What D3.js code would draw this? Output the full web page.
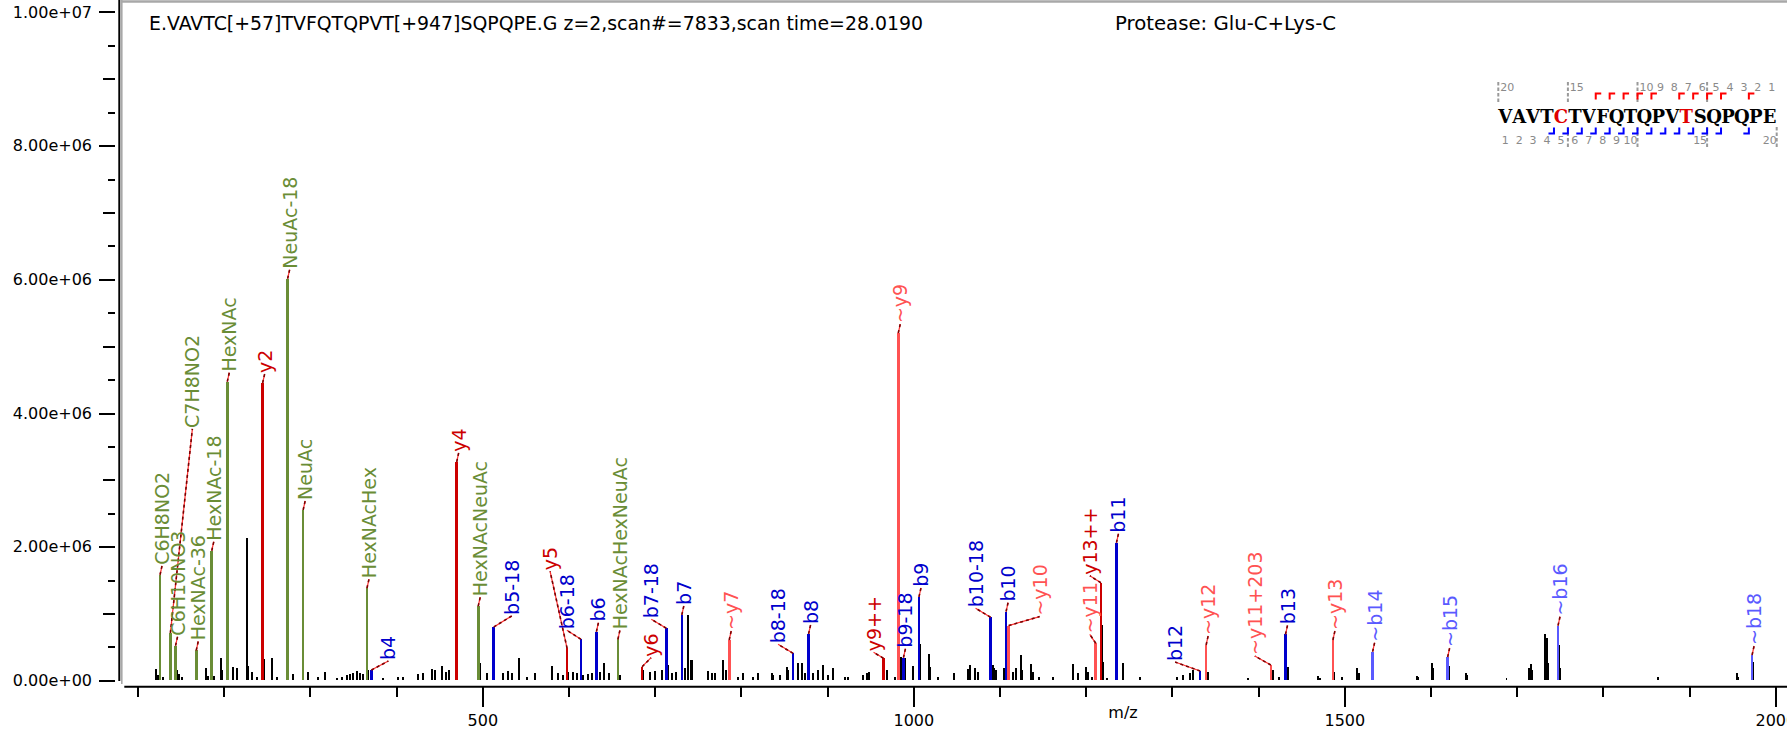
<!DOCTYPE html>
<html>
<head>
<meta charset="utf-8">
<script src="https://cdn.jsdelivr.net/npm/d3@7"></script>
<style>
  html, body { margin: 0; padding: 0; background: #fff; }
  svg { display: block; }
</style>
</head>
<body>
<svg id="chart" width="1787" height="731"></svg>
<script>
// ---------- spectrum annotation data ----------
const titleText = "E.VAVTC[+57]TVFQTQPVT[+947]SQPQPE.G z=2,scan#=7833,scan time=28.0190";
const proteaseText = "Protease: Glu-C+Lys-C";
const peptide = "VAVTCTVFQTQPVTSQPQPE";
const modifiedResidues = [4, 13];           // C[+57], T[+947]
const yIonsObserved = [2, 4, 5, 6, 7, 9, 10, 11, 12, 13];
const bIonsObserved = [4, 5, 6, 7, 8, 9, 10, 11, 12, 13, 14, 15, 16, 18];
const topNumberResidues = [0, 5, 10, 11, 12, 13, 14, 15, 16, 17, 18, 19];
const bottomNumberResidues = [0, 1, 2, 3, 4, 5, 6, 7, 8, 9, 14, 19];

// assigned fragment / oxonium ions
const ionLabels = ["C6H8NO2","C7H8NO2","C6H10NO3","HexNAc-36","HexNAc-18","HexNAc","y2","NeuAc-18","NeuAc",
  "HexNAcHex","b4","y4","HexNAcNeuAc","b5-18","y5","b6-18","b6","HexNAcHexNeuAc","y6","b7-18","b7","~y7",
  "b8-18","b8","y9++","~y9","b9-18","b9","b10-18","b10","~y10","~y11","y13++","b11","b12","~y12",
  "~y11+203","b13","~y13","~b14","~b15","~b16","~b18"];
const ionMz = [126.055,138.055,144.065,168.066,186.076,204.087,245.113,274.092,292.103,
  366.140,371.236,470.225,495.182,513.256,598.284,614.304,632.315,657.235,685.316,713.372,731.383,786.364,
  860.441,878.452,965.41,982.485,988.50,1006.510,1089.548,1107.558,1110.544,1211.592,1217.53,1235.617,1332.670,1339.650,
  1414.67,1431.738,1486.718,1532.786,1619.818,1747.877,1972.989];
// intensities in units of 1e6
const ionIntensity = [1.58,0.71,0.52,0.45,1.94,4.47,4.45,6.01,2.55,
  1.38,0.155,3.27,1.11,0.80,0.48,0.615,0.73,0.615,0.205,0.78,0.98,0.605,
  0.405,0.695,0.33,5.196,0.34,1.25,0.945,1.03,0.82,0.555,1.46,2.06,0.14,0.53,
  0.23,0.69,0.605,0.43,0.35,0.82,0.38];

// unassigned peaks: [m/z, intensity in 1e6]
const unassignedPeaks = [
  [121.0,0.17],[123.3,0.08],[129.9,0.05],[146.1,0.155],[148.0,0.10],[151.2,0.05],
  [179.0,0.18],[182.1,0.06],[188.7,0.06],[196.8,0.34],[198.3,0.15],[205.3,0.28],
  [211.1,0.20],[215.0,0.19],[226.6,2.13],[228.5,0.21],[232.4,0.13],[238.2,0.05],
  [246.7,0.32],[256.3,0.33],[261.4,0.05],[275.1,0.555],[280.0,0.10],[298.1,0.13],
  [309.7,0.05],[317.4,0.13],[331.0,0.04],[336.8,0.05],[342.6,0.075],[346.4,0.10],
  [350.3,0.11],[354.2,0.14],[358.0,0.11],[361.9,0.09],[367.7,0.16],
  [385.1,0.04],[402.5,0.055],[408.3,0.055],[425.7,0.095],[431.5,0.105],[441.2,0.165],
  [445.0,0.155],[452.8,0.215],[457.8,0.13],[461.6,0.155],[471.2,0.505],[497.2,0.255],
  [505.0,0.105],[523.6,0.11],[530.1,0.14],[534.0,0.105],[542.5,0.33],[551.4,0.055],
  [561.1,0.11],[580.4,0.215],[588.1,0.105],[593.9,0.08],[599.3,0.13],[605.5,0.13],
  [609.4,0.11],[617.1,0.085],[622.9,0.09],[626.8,0.105],[636.5,0.13],[641.5,0.255],
  [646.9,0.105],[659.7,0.08],[686.7,0.155],[694.5,0.13],[700.3,0.14],[708.0,0.155],
  [715.7,0.23],[719.6,0.105],[724.6,0.13],[735.1,0.18],[738.9,0.98],[741.7,0.30],
  [743.5,0.30],[762.1,0.14],[766.0,0.11],[769.9,0.105],[779.5,0.30],[782.6,0.155],
  [797.0,0.055],[802.7,0.105],[814.3,0.055],[820.1,0.11],[835.6,0.11],[837.5,0.08],
  [845.3,0.08],[853.0,0.20],[855.0,0.155],[866.5,0.255],[871.2,0.255],[874.3,0.105],
  [879.5,0.28],[884.0,0.105],[889.7,0.155],[895.5,0.23],[901.3,0.08],[907.1,0.19],
  [920.7,0.055],[924.5,0.055],[941.9,0.08],[945.8,0.11],[948.8,0.13],[966.4,0.255],
  [969.0,0.155],[978.7,0.055],[983.5,2.09],[985.6,0.355],[990.3,0.33],[1000.0,0.215],
  [1007.5,0.545],[1017.8,0.395],[1019.3,0.20],[1029.0,0.055],[1047.5,0.105],[1063.7,0.165],
  [1065.7,0.23],[1071.5,0.185],[1075.4,0.12],[1090.6,0.54],[1092.0,0.23],[1093.9,0.185],
  [1095.8,0.16],[1105.5,0.185],[1108.6,0.59],[1115.9,0.12],[1118.7,0.185],[1124.9,0.38],
  [1126.4,0.16],[1136.1,0.24],[1138.4,0.12],[1145.7,0.05],[1162.3,0.05],[1185.5,0.24],
  [1191.3,0.105],[1200.2,0.20],[1202.2,0.12],[1207.5,0.05],[1219.0,0.83],[1220.3,0.28],
  [1224.3,0.04],[1236.6,1.20],[1243.6,0.255],[1263.0,0.05],[1305.5,0.055],[1313.2,0.08],
  [1320.9,0.11],[1324.0,0.155],[1342.2,0.13],[1388.5,0.04],[1416.8,0.155],[1424.5,0.055],
  [1432.9,0.43],[1435.0,0.20],[1469.8,0.06],[1471.5,0.04],[1488.4,0.13],[1497.6,0.055],
  [1514.3,0.18],[1516.6,0.105],[1533.8,0.215],[1583.9,0.06],[1585.5,0.05],[1601.3,0.265],
  [1603.2,0.19],[1621.2,0.215],[1640.9,0.115],[1642.0,0.08],[1688.0,0.04],[1714.3,0.18],
  [1716.2,0.24],[1717.5,0.16],[1732.9,0.695],[1735.3,0.63],[1736.4,0.265],[1748.9,0.53],
  [1750.0,0.18],[1863.6,0.055],[1955.1,0.115],[1956.5,0.055],[1974.0,0.27]
];

// axis ticks
const yMajorTicks = [0, 2e6, 4e6, 6e6, 8e6, 1e7];
const yTickLabels = ["0.00e+00", "2.00e+06", "4.00e+06", "6.00e+06", "8.00e+06", "1.00e+07"];
const xMajorTicks = [500, 1000, 1500, 2000];
const xTickLabels = ["500", "1000", "1500", "2000"];
const xTitle = "m/z";

// ---------- layout / style ----------
const W = 1787, H = 731;
const FONT = "'DejaVu Sans', Verdana, sans-serif";
const colors = {
  glycan: "#6a8d36",
  y: "#cc0000",
  yLoss: "#ff5252",
  b: "#0000cc",
  bLoss: "#5a5aff"
};
// label offsets (px) for annotations moved off their peak
const labelNudge = {
  "C7H8NO2": [20, -195], "b4": [15, 0], "b5-18": [16, -2], "y5": [-19, -68],
  "b6-18": [-16, 0], "y6": [7, 0], "b7-18": [-17, 0], "b8-18": [-17, 0],
  "y9++": [-12, 3], "b10-18": [-17, 0], "~y10": [29, 0], "~y11": [-8, 0],
  "y13++": [-13, 2], "b12": [-27, 0], "~y11+203": [-18, 0]
};

function ionKind(label) {
  if (label.startsWith("~y")) return "yLoss";
  if (label.startsWith("~b")) return "bLoss";
  if (/^y\d/.test(label)) return "y";
  if (/^b\d/.test(label)) return "b";
  return "glycan";
}

const svg = d3.select("#chart");
const x = d3.scaleLinear().domain([84.6, 2013.5]).range([124.3, 1787]);
const y = d3.scaleLinear().domain([0, 1e7]).range([680.4, 11.9]);

// plot frame
svg.append("line").attr("x1", 121).attr("x2", W).attr("y1", 1.5).attr("y2", 1.5)
  .attr("stroke", "#a8a8a8").attr("stroke-width", 2.5);
svg.append("line").attr("x1", 121.8).attr("x2", 121.8).attr("y1", 0).attr("y2", 684)
  .attr("stroke", "#a8a8a8").attr("stroke-width", 1.6);

// ---------- y axis ----------
function styleAxis(g) {
  g.attr("font-family", FONT).attr("font-size", 16);
  g.select(".domain").remove();
  g.selectAll(".tick line").attr("stroke", "#000").attr("stroke-width", 2).attr("shape-rendering", "crispEdges");
  g.selectAll(".tick text").attr("fill", "#000");
}
function yTier(values, size, labels) {
  const ax = d3.axisLeft(y).tickValues(values).tickSize(size).tickSizeOuter(0).tickPadding(7)
    .tickFormat((d, i) => labels ? labels[i] : "");
  svg.append("g").attr("transform", "translate(115,0)").call(ax).call(styleAxis);
}
const yAllHalf = d3.range(0, 1e7 + 1, 5e5);
yTier(yAllHalf.filter(v => v % 1e6 !== 0), 7, null);
yTier(yAllHalf.filter(v => v % 1e6 === 0 && v % 2e6 !== 0), 12, null);
yTier(yMajorTicks, 16, yTickLabels);
svg.append("line").attr("x1", 119.3).attr("x2", 119.3).attr("y1", 0).attr("y2", 681)
  .attr("stroke", "#000").attr("stroke-width", 2);

// ---------- x axis ----------
function xTier(values, size, labels) {
  const ax = d3.axisBottom(x).tickValues(values).tickSize(size).tickSizeOuter(0).tickPadding(8)
    .tickFormat((d, i) => labels ? labels[i] : "");
  svg.append("g").attr("transform", "translate(0,686.7)").call(ax).call(styleAxis);
}
xTier(d3.range(100, 2001, 100).filter(v => v % 500 !== 0), 10, null);
xTier(xMajorTicks, 20, xTickLabels);
svg.append("line").attr("x1", 124.3).attr("x2", W).attr("y1", 686.7).attr("y2", 686.7)
  .attr("stroke", "#000").attr("stroke-width", 2);
svg.append("text").attr("x", 1123).attr("y", 718).attr("text-anchor", "middle")
  .attr("font-family", FONT).attr("font-size", 16).attr("fill", "#000").text(xTitle);

// ---------- peaks ----------
const peaksG = svg.append("g").attr("shape-rendering", "crispEdges");
peaksG.selectAll("line.noise").data(unassignedPeaks).join("line")
  .attr("class", "noise")
  .attr("x1", d => x(d[0])).attr("x2", d => x(d[0]))
  .attr("y1", y(0)).attr("y2", d => y(d[1] * 1e6))
  .attr("stroke", "#000").attr("stroke-width", 1.8);

const ions = ionLabels.map((label, i) => ({
  label, mz: ionMz[i], intensity: ionIntensity[i] * 1e6, kind: ionKind(label)
}));
ions.forEach(d => {
  d.px = x(d.mz);
  d.py = y(d.intensity);
  const n = labelNudge[d.label] || [0, 0];
  d.lx = d.px + 2 + n[0];
  d.ly = d.py - 10 + n[1];
});

peaksG.selectAll("line.ion").data(ions).join("line")
  .attr("class", "ion")
  .attr("x1", d => d.px).attr("x2", d => d.px)
  .attr("y1", y(0)).attr("y2", d => d.py)
  .attr("stroke", d => colors[d.kind]).attr("stroke-width", 2.6);

// leader lines from peak top to label
const leadG = svg.append("g");
leadG.selectAll("line.lead-base").data(ions).join("line")
  .attr("x1", d => d.px).attr("y1", d => d.py).attr("x2", d => d.lx).attr("y2", d => d.ly + 1)
  .attr("stroke", "#ff3030").attr("stroke-width", 1.2);
leadG.selectAll("line.lead-dash").data(ions).join("line")
  .attr("x1", d => d.px).attr("y1", d => d.py).attr("x2", d => d.lx).attr("y2", d => d.ly + 1)
  .attr("stroke", "#7a0000").attr("stroke-width", 1.6).attr("stroke-dasharray", "3,3");

svg.append("g").selectAll("text").data(ions).join("text")
  .attr("transform", d => `translate(${d.lx},${d.ly}) rotate(-90)`)
  .attr("dominant-baseline", "central")
  .attr("font-family", FONT).attr("font-size", 19)
  .attr("fill", d => colors[d.kind])
  .text(d => d.label);

// ---------- header texts ----------
function fitted(xPos, yPos, text, width, size) {
  const t = svg.append("text").attr("x", xPos).attr("y", yPos)
    .attr("font-family", FONT).attr("font-size", size).attr("fill", "#000").text(text);
  t.attr("textLength", width).attr("lengthAdjust", "spacingAndGlyphs");
  return t;
}
fitted(149, 30, titleText, 774, 20);
fitted(1115, 30, proteaseText, 221, 20);

// ---------- sequence coverage map ----------
const seqX = d3.scaleLinear().domain([0, peptide.length]).range([1498.3, 1776.7]);
const seqG = svg.append("g");
seqG.selectAll("text.res").data(peptide.split("")).join("text")
  .attr("x", (d, i) => seqX(i + 0.5)).attr("y", 123.3)
  .attr("text-anchor", "middle")
  .attr("font-family", "'DejaVu Serif', 'Liberation Serif', serif")
  .attr("font-weight", "bold").attr("font-size", 18)
  .attr("fill", (d, i) => modifiedResidues.includes(i) ? "#e00000" : "#000")
  .text(d => d);

seqG.selectAll("text.topnum").data(topNumberResidues).join("text")
  .attr("x", i => seqX(i + 0.5) + 2).attr("y", 90.7).attr("text-anchor", "middle")
  .attr("font-family", FONT).attr("font-size", 11).attr("fill", "#8a8a8a")
  .text(i => peptide.length - i);
seqG.selectAll("text.botnum").data(bottomNumberResidues).join("text")
  .attr("x", i => seqX(i + 0.5)).attr("y", 144).attr("text-anchor", "middle")
  .attr("font-family", FONT).attr("font-size", 11).attr("fill", "#8a8a8a")
  .text(i => i + 1);

// every-fifth residue markers
seqG.selectAll("line.topmark").data([0, 5, 10, 15]).join("line")
  .attr("x1", k => seqX(k)).attr("x2", k => seqX(k)).attr("y1", 82).attr("y2", 104)
  .attr("stroke", "#9a9a9a").attr("stroke-width", 2).attr("stroke-dasharray", "3.5,2");
seqG.selectAll("line.botmark").data([5, 10, 15, 20]).join("line")
  .attr("x1", k => seqX(k)).attr("x2", k => seqX(k)).attr("y1", 127).attr("y2", 149)
  .attr("stroke", "#9a9a9a").attr("stroke-width", 2).attr("stroke-dasharray", "3.5,2");

// y-ion brackets above, b-ion brackets below
seqG.selectAll("path.ymark").data(yIonsObserved).join("path")
  .attr("d", n => { const bx = seqX(peptide.length - n); return `M${bx},99.5V93.5H${bx + 5.5}`; })
  .attr("fill", "none").attr("stroke", "#ff0000").attr("stroke-width", 2);
seqG.selectAll("path.bmark").data(bIonsObserved).join("path")
  .attr("d", n => { const bx = seqX(n); return `M${bx - 5.5},133.5H${bx}V127.5`; })
  .attr("fill", "none").attr("stroke", "#0000ff").attr("stroke-width", 2);
</script>
</body>
</html>
